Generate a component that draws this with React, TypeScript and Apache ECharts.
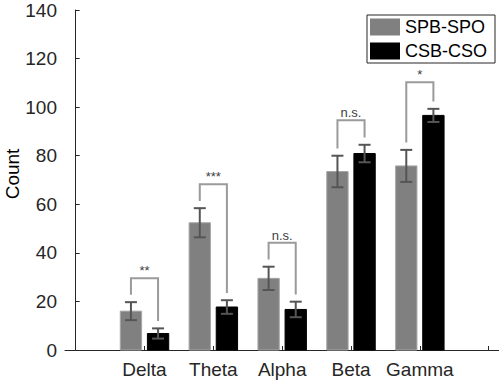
import React, { useEffect, useRef } from 'react';
import * as echarts from 'echarts';

const categories = ['Delta', 'Theta', 'Alpha', 'Beta', 'Gamma'];
const seriesNames = ['SPB-SPO', 'CSB-CSO'];
const spbMeans = [16.0, 52.4, 29.5, 73.5, 75.8];
const spbErr = [3.7, 6.0, 4.8, 6.5, 6.6];
const csbMeans = [6.8, 17.7, 16.7, 80.9, 96.6];
const csbErr = [2.1, 2.8, 3.2, 3.6, 2.7];
const sigLabels = ['**', '***', 'n.s.', 'n.s.', '*'];
const bracketTops = [29.5, 68.3, 44.2, 94.6, 110.2];
const xTickValues = [0, 1, 2, 3, 4, 5, 6];
const yTickValues = [0, 20, 40, 60, 80, 100, 120, 140];
const yAxisTitle = 'Count';

const FONT = 'Liberation Sans, Arial, Helvetica, sans-serif';
const AXIS_COLOR = '#262626';
const BAR_W = 0.31;
const OFFSET = 0.197;
const LEG_GAP = 3;

const barRenderer = (side: number, stroke: string) => (params: any, api: any) => {
  const x = api.value(0);
  const y = api.value(1);
  const unit = api.size([1, 0])[0];
  const half = (unit * BAR_W) / 2;
  const top = api.coord([x, y]);
  const base = api.coord([x, 0]);
  const cx = top[0] + side * unit * OFFSET;
  return {
    type: 'rect',
    shape: { x: cx - half, y: top[1], width: half * 2, height: base[1] - top[1] },
    style: { fill: api.visual('color'), stroke, lineWidth: 1 },
  };
};

const errRenderer = (params: any, api: any) => {
  const x = api.value(0);
  const m = api.value(1);
  const e = api.value(2);
  const side = api.value(3);
  const unit = api.size([1, 0])[0];
  const hi = api.coord([x, m + e]);
  const lo = api.coord([x, m - e]);
  const cx = hi[0] + side * unit * OFFSET;
  const cap = 6;
  const style = { stroke: '#555555', lineWidth: 2 };
  return {
    type: 'group',
    children: [
      { type: 'line', shape: { x1: cx, y1: hi[1], x2: cx, y2: lo[1] }, style },
      { type: 'line', shape: { x1: cx - cap, y1: hi[1], x2: cx + cap, y2: hi[1] }, style },
      { type: 'line', shape: { x1: cx - cap, y1: lo[1], x2: cx + cap, y2: lo[1] }, style },
    ],
  };
};

const bracketRenderer = (params: any, api: any) => {
  const i = params.dataIndex;
  const x = api.value(0);
  const topV = api.value(1);
  const lEnd = api.value(2);
  const rEnd = api.value(3);
  const unit = api.size([1, 0])[0];
  const t = api.coord([x, topV]);
  const l = api.coord([x, lEnd]);
  const r = api.coord([x, rEnd]);
  const lx = t[0] - unit * OFFSET;
  const rx = t[0] + unit * OFFSET;
  return {
    type: 'group',
    children: [
      {
        type: 'polyline',
        shape: { points: [[lx, l[1]], [lx, t[1]], [rx, t[1]], [rx, r[1]]] },
        style: { stroke: '#9a9a9a', lineWidth: 2, fill: 'none' },
      },
      {
        type: 'text',
        style: {
          text: sigLabels[i],
          x: t[0],
          y: t[1] - 1,
          align: 'center',
          verticalAlign: 'bottom',
          fontSize: 13,
          fontFamily: FONT,
          fill: '#404040',
        },
      },
    ],
  };
};

export default function App() {
  const ref = useRef<HTMLDivElement>(null);
  useEffect(() => {
    if (!ref.current) return;
    const chart = echarts.init(ref.current, null, { renderer: 'svg' });
    const xs = categories.map((_, i) => i + 1);
    const option: any = {
      animation: false,
      backgroundColor: '#ffffff',
      grid: { left: 65, right: 0, top: 10, bottom: 30, outerBoundsMode: 'none' },
      graphic: [
        {
          type: 'text',
          x: 12,
          y: 174,
          rotation: Math.PI / 2,
          style: {
            text: yAxisTitle,
            align: 'center',
            verticalAlign: 'middle',
            fontSize: 19,
            fontFamily: FONT,
            fill: '#000',
          },
        },
      ],
      legend: {
        data: seriesNames,
        orient: 'vertical',
        left: 367,
        top: 15,
        itemWidth: 30,
        itemHeight: 17,
        itemGap: 4,
        padding: [2, 8, 2, 3],
        borderColor: AXIS_COLOR,
        borderWidth: 1,
        icon: 'rect',
        textStyle: { fontSize: 18, fontFamily: FONT, color: '#000', lineHeight: 20 },
      },
      xAxis: {
        type: 'value',
        min: -0.155,
        max: 6.15,
        splitLine: { show: false },
        axisLine: { lineStyle: { color: AXIS_COLOR, width: 1 } },
        axisTick: { inside: true, length: 4, customValues: xTickValues, lineStyle: { color: AXIS_COLOR } },
        axisLabel: {
          customValues: xs,
          formatter: (v: number) => categories[Math.round(v) - 1] ?? '',
          fontSize: 19,
          fontFamily: FONT,
          color: AXIS_COLOR,
          margin: 10,
        },
      },
      yAxis: {
        type: 'value',
        min: 0,
        max: 140,
        interval: 20,
        splitLine: { show: false },
        axisLine: { show: true, lineStyle: { color: AXIS_COLOR, width: 1 } },
        axisTick: { show: true, inside: true, length: 4, lineStyle: { color: AXIS_COLOR } },
        axisLabel: {
          customValues: yTickValues,
          fontSize: 19,
          fontFamily: FONT,
          color: AXIS_COLOR,
          margin: 8,
        },
      },
      series: [
        {
          name: seriesNames[0],
          type: 'custom',
          itemStyle: { color: '#808080' },
          renderItem: barRenderer(-1, '#a6a6a6'),
          encode: { x: 0, y: 1 },
          data: xs.map((x, i) => [x, spbMeans[i]]),
          z: 2,
        },
        {
          name: seriesNames[1],
          type: 'custom',
          itemStyle: { color: '#000000' },
          renderItem: barRenderer(1, '#000000'),
          encode: { x: 0, y: 1 },
          data: xs.map((x, i) => [x, csbMeans[i]]),
          z: 2,
        },
        {
          name: 'errors',
          type: 'custom',
          renderItem: errRenderer,
          encode: { x: 0, y: 1 },
          data: [
            ...xs.map((x, i) => [x, spbMeans[i], spbErr[i], -1]),
            ...xs.map((x, i) => [x, csbMeans[i], csbErr[i], 1]),
          ],
          z: 3,
        },
        {
          name: 'brackets',
          type: 'custom',
          renderItem: bracketRenderer,
          encode: { x: 0, y: 1 },
          data: xs.map((x, i) => [
            x,
            bracketTops[i],
            spbMeans[i] + spbErr[i] + LEG_GAP,
            csbMeans[i] + csbErr[i] + LEG_GAP,
          ]),
          z: 4,
        },
      ],
    };
    chart.setOption(option);
    return () => chart.dispose();
  }, []);
  return (
    <div
      ref={ref}
      style={{ position: 'fixed', left: 0, top: 0, width: 499, height: 380, background: '#fff' }}
    />
  );
}
